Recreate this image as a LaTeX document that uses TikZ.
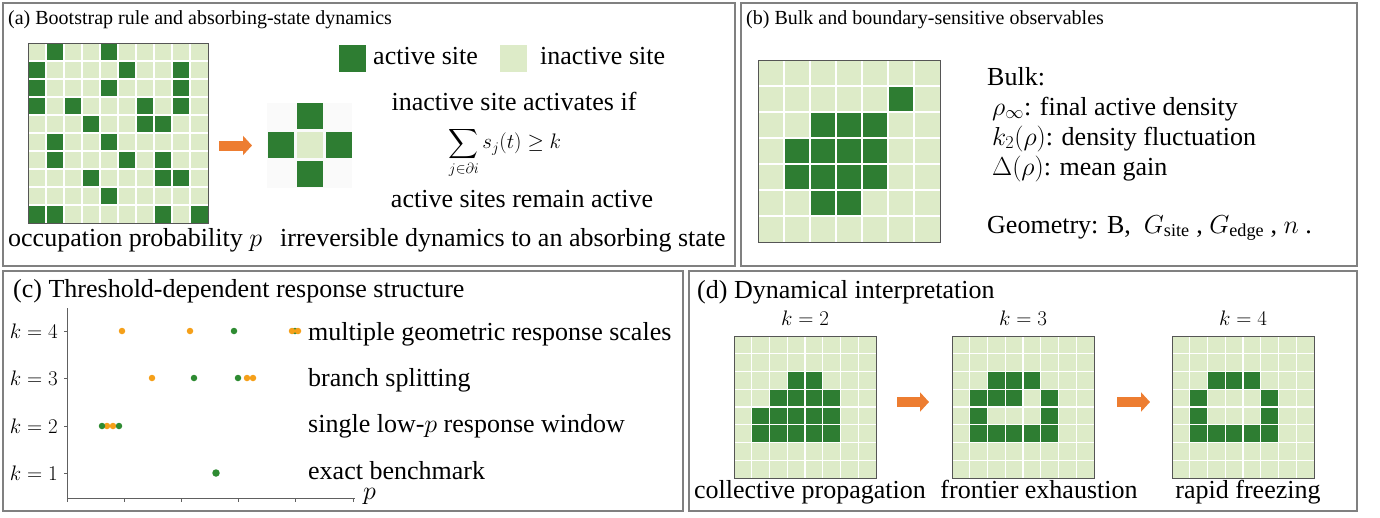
\RequirePackage{fix-cm}
\documentclass[tikz,border=0pt]{standalone}
\usepackage{amsmath}
\usepackage{fontspec}
\setmainfont{Liberation Serif}
\usepackage{xcolor}
\definecolor{panelborder}{HTML}{808080}
\definecolor{activecolor}{HTML}{2E7D32}
\definecolor{inactivecolor}{HTML}{DDEBC8}
\definecolor{latticeborder}{HTML}{555555}
\definecolor{arrowcolor}{HTML}{ED7D31}
\definecolor{dotorange}{HTML}{F5A01A}
\definecolor{dotgreen}{HTML}{2E8B32}
\definecolor{axiscolor}{HTML}{606060}
\usepackage{tikz}
\usetikzlibrary{positioning,arrows.meta}
\tikzset{
    panel/.style={
        draw=panelborder,
        line width=1.2pt,
    },
    lattice/.style={
        rectangle,
        draw=latticeborder,
        fill=inactivecolor,
        line width=1pt,
        inner sep=0pt,
        outer sep=0pt,
    },
    activecell/.style={
        fill=activecolor,
    },
    gridline/.style={
        draw=white,
        line width=1.3pt,
    },
    cellbox/.style={
        rectangle,
        inner sep=0pt,
        outer sep=0pt,
        minimum size=26pt,
    },
    fatarrow/.style={
        -{Triangle[length=9pt,width=19pt]},
        line width=10pt,
        arrowcolor,
    },
    title/.style={
        inner sep=0pt,
        anchor=base west,
        font=\fontsize{20}{24}\selectfont,
    },
    bigtitle/.style={
        inner sep=0pt,
        anchor=base west,
        font=\fontsize{26}{31}\selectfont,
    },
    txt/.style={
        inner sep=0pt,
        font=\fontsize{26}{31}\selectfont,
    },
    klabel/.style={
        inner sep=0pt,
        font=\fontsize{21}{25}\selectfont,
    },
    axis/.style={
        draw=axiscolor,
        line width=0.9pt,
    },
    respdot/.style={
        circle,
        inner sep=0pt,
        minimum size=6.5pt,
    },
}

% lattice: name, top-left x, top-left y, cells per side, cell size, active cells col/row
\newcommand{\drawlattice}[6]{%
    \node[lattice, anchor=north west, minimum size={#4*#5}] (#1) at (#2,#3) {};
    \foreach \cx/\ry in {#6}
        \fill[activecell] ({#2+\cx*#5},{#3+\ry*#5}) rectangle ++(#5,#5);
    \pgfmathtruncatemacro{\lastline}{#4-1}
    \foreach \i in {1,...,\lastline}{
        \draw[gridline] ({#2+\i*#5},#3) -- ++(0,{#4*#5});
        \draw[gridline] (#2,{#3+\i*#5}) -- ++({#4*#5},0);
    }
    \draw[draw=latticeborder, line width=1pt] (#1.north west) rectangle (#1.south east);
}

\begin{document}
\begin{tikzpicture}[x=1pt, y=-1pt]
    \useasboundingbox (0,0) rectangle (1380,517);

    % panel frames
    \draw[panel] (3,3) rectangle (735,266);
    \draw[panel] (741,3) rectangle (1357,266);
    \draw[panel] (3,271) rectangle (683,511);
    \draw[panel] (689,271) rectangle (1357,511);

    % (a) rule
    \node[title] (titlea) at (8,24) {(a) Bootstrap rule and absorbing-state dynamics};
    \drawlattice{gridA}{28}{43}{10}{18}{1/0,4/0, 0/1,5/1,8/1, 0/2,4/2,8/2, 0/3,2/3,6/3,8/3,
        3/4,6/4,7/4, 1/5,4/5, 1/6,5/6,7/6, 3/7,7/7,8/7, 4/8, 0/9,1/9,7/9,9/9}

    \node[cellbox, fill=black!2, minimum size=85pt] (cross) at (309.5,145.5) {};
    \node[cellbox, fill=inactivecolor] (crossC) at (310,145) {};
    \node[cellbox, fill=activecolor, left=3pt of crossC] (crossW) {};
    \node[cellbox, fill=activecolor, right=3pt of crossC] (crossE) {};
    \node[cellbox, fill=activecolor, above=3pt of crossC] (crossN) {};
    \node[cellbox, fill=activecolor, below=3pt of crossC] (crossS) {};
    \draw[fatarrow, shorten <=11pt, shorten >=15pt] (gridA.east |- cross.west) -- (cross.west);

    \node[cellbox, minimum size=27pt, fill=activecolor] (legactive) at (352.5,58) {};
    \node[txt, anchor=base west] (legactivetext) at (373,64) {active site};
    \node[cellbox, minimum size=27pt, fill=inactivecolor] (leginactive) at (513,58) {};
    \node[txt, anchor=base west] (leginactivetext) at (540,64) {inactive site};

    \node[txt, anchor=base] (ruletext) at (514,110) {inactive site activates if};
    \node[inner sep=0pt, font=\fontsize{21}{25}\selectfont] (rulesum) at (505,153)
        {$\displaystyle\sum_{j\in\partial i} s_j(t) \ge k$};
    \node[txt, anchor=base] (keeptext) at (522,207) {active sites remain active};
    \node[txt, anchor=base west] (occtext) at (8,246) {occupation probability $p$};
    \node[txt, anchor=base west] (dyntext) at (280,246) {irreversible dynamics to an absorbing state};

    % (b) observables
    \node[title] (titleb) at (746,24) {(b) Bulk and boundary-sensitive observables};
    \drawlattice{gridB}{758}{60}{7}{26}{5/1, 2/2,3/2,4/2, 1/3,2/3,3/3,4/3, 1/4,2/4,3/4,4/4, 2/5,3/5}
    \node[txt, anchor=base west] (bulkhead) at (987,85) {Bulk:};
    \node[txt, anchor=base west] (obsrho) at (992,115) {$\rho_\infty$: final active density};
    \node[txt, anchor=base west] (obskappa) at (992,145) {$k_2(\rho)$: density fluctuation};
    \node[txt, anchor=base west] (obsgain) at (992,175) {$\Delta(\rho)$: mean gain};
    \node[txt, anchor=base west] (geomline) at (987,233)
        {Geometry: B,\ \ $G_{\text{site}}$ , $G_{\text{edge}}$ , $n$ .};

    % (c) response structure
    \node[bigtitle] (titlec) at (13,297) {(c) Threshold-dependent response structure};
    \draw[axis] (67,308) -- (67,498) -- (355,498);
    \foreach \t in {0,...,5}
        \draw[axis] ({67+57.2*\t},498) -- ++(0,4);
    \foreach \k/\y in {4/331,3/378,2/426,1/473}{
        \draw[axis] (67,\y) -- ++(-3,0);
        \node[klabel, anchor=base east] (kc\k) at (58,{\y+7}) {$k=\k$};
    }
    \node[txt, anchor=base west] (plabel) at (363,499) {$p$};

    \foreach \x [count=\n] in {234,295}
        \node[respdot, fill=dotgreen] (g4\n) at (\x,331) {};
    \foreach \x [count=\n] in {122,190,292,298}
        \node[respdot, fill=dotorange] (o4\n) at (\x,331) {};
    \foreach \x [count=\n] in {194,238}
        \node[respdot, fill=dotgreen] (g3\n) at (\x,378) {};
    \foreach \x [count=\n] in {152,247,253}
        \node[respdot, fill=dotorange] (o3\n) at (\x,378) {};
    \foreach \x [count=\n] in {107,113}
        \node[respdot, fill=dotorange] (o2\n) at (\x,426) {};
    \foreach \x [count=\n] in {102,119}
        \node[respdot, fill=dotgreen] (g2\n) at (\x,426) {};
    \node[respdot, fill=dotgreen, minimum size=7.5pt] (g11) at (216,473) {};

    \node[txt, anchor=base west] (rowlab4) at (308,340) {multiple geometric response scales};
    \node[txt, anchor=base west] (rowlab3) at (308,386) {branch splitting};
    \node[txt, anchor=base west] (rowlab2) at (308,432) {single low-$p$ response window};
    \node[txt, anchor=base west] (rowlab1) at (308,479) {exact benchmark};

    % (d) dynamics
    \node[bigtitle] (titled) at (697,298) {(d) Dynamical interpretation};
    \drawlattice{gridD1}{734}{336}{8}{17.75}{3/2,4/2, 2/3,3/3,4/3,5/3, 1/4,2/4,3/4,4/4,5/4, 1/5,2/5,3/5,4/5,5/5}
    \drawlattice{gridD2}{952}{336}{8}{17.75}{2/2,3/2,4/2, 1/3,2/3,3/3,5/3, 1/4,5/4, 1/5,2/5,3/5,4/5,5/5}
    \drawlattice{gridD3}{1172}{336}{8}{17.75}{2/2,3/2,4/2, 1/3,5/3, 1/4,5/4, 1/5,2/5,3/5,4/5,5/5}

    \node[klabel, above=10pt of gridD1] (kd2) {$k=2$};
    \node[klabel, above=10pt of gridD2] (kd3) {$k=3$};
    \node[klabel, above=10pt of gridD3] (kd4) {$k=4$};

    \node[txt, below=2pt of gridD1, xshift=5pt] (capd1) {collective propagation};
    \node[txt, below=2pt of gridD2, xshift=16pt] (capd2) {frontier exhaustion};
    \node[txt, below=2pt of gridD3, xshift=5pt] (capd3) {rapid freezing};

    \draw[fatarrow, shorten <=21pt, shorten >=23pt] ([yshift=5pt]gridD1.east) -- ([yshift=5pt]gridD2.west);
    \draw[fatarrow, shorten <=23pt, shorten >=22pt] ([yshift=5pt]gridD2.east) -- ([yshift=5pt]gridD3.west);
\end{tikzpicture}
\end{document}
